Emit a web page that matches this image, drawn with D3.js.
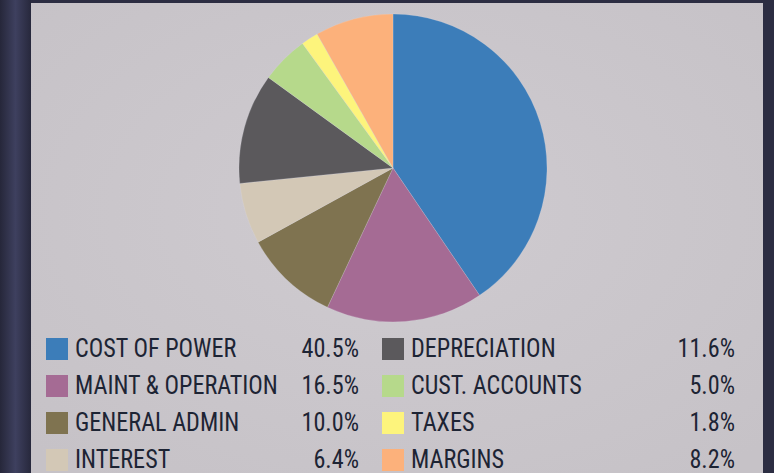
<!DOCTYPE html>
<html><head><meta charset="utf-8">
<script src="https://cdn.jsdelivr.net/npm/d3@7"></script>
<style>
html,body{margin:0;padding:0;background:#2e2f45;}
svg{display:block;}
</style></head>
<body>
<svg id="chart" width="774" height="473"></svg>
<script>
const categories = ["COST OF POWER","MAINT & OPERATION","GENERAL ADMIN","INTEREST","DEPRECIATION","CUST. ACCOUNTS","TAXES","MARGINS"];
const values = [40.5,16.5,10.0,6.4,11.6,5.0,1.8,8.2];
const valueLabels = ["40.5%","16.5%","10.0%","6.4%","11.6%","5.0%","1.8%","8.2%"];
const colors = ["#3c7db9","#a56b94","#7f7350","#d3c8b6","#5b595c","#b6d98b","#fdf47c","#fcb17b"];

const svg = d3.select("#chart");
const W = 774, H = 473;

// frame
const defs = svg.append("defs");
const fg = defs.append("linearGradient").attr("id","frame").attr("x1",0).attr("x2",1);
fg.append("stop").attr("offset","0").attr("stop-color","#26273a");
fg.append("stop").attr("offset","0.5").attr("stop-color","#3e405f");
fg.append("stop").attr("offset","1").attr("stop-color","#27283c");
svg.append("rect").attr("width",W).attr("height",H).attr("fill","#2c2d42");
svg.append("rect").attr("x",0).attr("y",0).attr("width",31).attr("height",H).attr("fill","url(#frame)");

// panel
const pg = defs.append("radialGradient").attr("id","panel").attr("cx","0.5").attr("cy","0.45").attr("r","0.7");
pg.append("stop").attr("offset","0").attr("stop-color","#cfcbd0");
pg.append("stop").attr("offset","1").attr("stop-color","#c6c2c7");
svg.append("rect").attr("x",31).attr("y",3).attr("width",732).attr("height",H-3).attr("fill","url(#panel)");

// pie
const cx = 393, cy = 168, r = 154;
const pie = d3.pie().sort(null).value(d => d)(values);
const arc = d3.arc().innerRadius(0).outerRadius(r);
const g = svg.append("g").attr("transform",`translate(${cx},${cy})`);
g.selectAll("path").data(pie).join("path")
  .attr("d",arc)
  .attr("fill",(d,i)=>colors[i])
  .attr("stroke","rgba(220,220,232,0.35)")
  .attr("stroke-width",0.6);

// legend
const font = "'Roboto Condensed','Liberation Sans Narrow','DejaVu Sans Condensed',sans-serif";
const rowY = d3.scaleLinear().domain([0,3]).range([357,468]);
const cols = [{sx:46, tx:75, px:359},{sx:382, tx:411, px:735}];
const leg = svg.append("g");
function squeeze(sel){
  const n = sel.node();
  const w = n.getComputedTextLength();
  sel.attr("textLength", w*0.93).attr("lengthAdjust","spacingAndGlyphs");
}
categories.forEach((c,i)=>{
  const col = cols[Math.floor(i/4)];
  const y = rowY(i%4);
  leg.append("rect").attr("x",col.sx).attr("y",y-19).attr("width",22).attr("height",22)
    .attr("fill",colors[i]);
  const t1 = leg.append("text").attr("x",col.tx).attr("y",y).text(c)
    .attr("font-family",font).attr("font-size",26).attr("fill","#1d2434");
  squeeze(t1);
  const t2 = leg.append("text").attr("x",col.px).attr("y",y).attr("text-anchor","end").text(valueLabels[i])
    .attr("font-family",font).attr("font-size",26).attr("fill","#1d2434");
  squeeze(t2);
});
</script>
</body></html>
